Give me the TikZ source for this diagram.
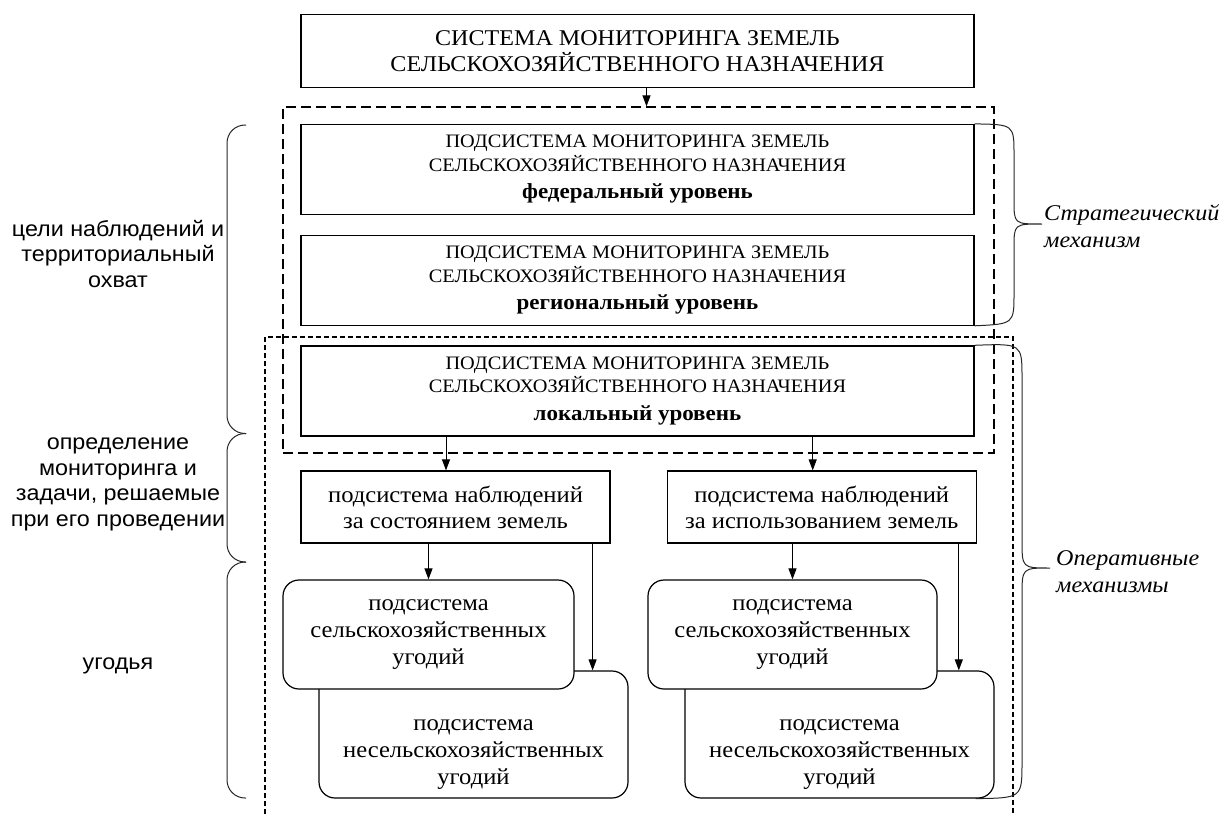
\documentclass[tikz,border=0pt]{standalone}
\usepackage{fontspec}
\setmainfont[FakeStretch=1.07]{Liberation Serif}
\setsansfont[FakeStretch=1.07]{Liberation Sans}
\usetikzlibrary{positioning,arrows.meta}

\newcommand{\podsys}{ПОДСИСТЕМА МОНИТОРИНГА ЗЕМЕЛЬ\\СЕЛЬСКОХОЗЯЙСТВЕННОГО НАЗНАЧЕНИЯ\\[4pt]}
\newcommand{\lvltext}[1]{{\fontsize{21.5}{26}\selectfont\bfseries #1}}

\begin{document}
\begin{tikzpicture}
[x=1pt, y=-1pt, >={Triangle[length=11pt,width=8pt]},
    box/.style={draw, line width=1.2pt, inner sep=0pt, align=center, fill=white},
    lvlbox/.style={box, minimum width=673pt, minimum height=90pt,
        font=\fontsize{19}{23.5}\selectfont},
    obs/.style={box, minimum width=309pt, minimum height=72pt,
        font=\fontsize{23}{26}\selectfont},
    land/.style={box, rounded corners=16pt, font=\fontsize{23}{27}\selectfont},
    stratframe/.style={draw, line width=1.2pt, dash pattern=on 10pt off 5pt,
        inner sep=0pt, minimum width=711pt, minimum height=346pt},
    opframe/.style={line width=1.1pt, dash pattern=on 5pt off 3pt},
    side/.style={font=\sffamily\fontsize{21.8}{25.5}\selectfont, align=center},
    mech/.style={font=\itshape\fontsize{22.5}{27}\selectfont, align=left,
        anchor=west, inner sep=0pt},
    curly/.style={line width=1pt, black!85},
    arr/.style={->, line width=1pt},
    ]
    \useasboundingbox (0,0) rectangle (1227,816);

    % frames
    \node[stratframe] (strat) at (638.5,280) {};
    \draw[opframe] (265,830) |- (1013,337) -- (1013,830);

    \node[box, minimum width=673pt, minimum height=73pt,
        font=\fontsize{22.5}{26}\selectfont] (sys) at (637.5,51)
        {СИСТЕМА МОНИТОРИНГА ЗЕМЕЛЬ\\СЕЛЬСКОХОЗЯЙСТВЕННОГО НАЗНАЧЕНИЯ};
    \node[lvlbox] (fed) at (637.5,169.5) {\podsys\lvltext{федеральный уровень}};
    \node[lvlbox] (reg) [below=19.5pt of fed] {\podsys\lvltext{региональный уровень}};
    \node[lvlbox] (loc) [below=19.5pt of reg] {\podsys\lvltext{локальный уровень}};

    \node[obs] (obsL) at (455.5,507) {подсистема наблюдений\\за состоянием земель};
    \node[obs] (obsR) [right=56pt of obsL] {подсистема наблюдений\\за использованием земель};

    \node[land, minimum width=309pt, minimum height=127pt] (land2L) at (473.5,734.5)
        {\mbox{}\\[24pt]подсистема\\несельскохозяйственных\\угодий};
    \node[land, minimum width=309pt, minimum height=127pt] (land2R) at (839.5,734.5)
        {\mbox{}\\[24pt]подсистема\\несельскохозяйственных\\угодий};
    \node[land, minimum width=291pt, minimum height=109pt] (land1L) at (428.5,634.5)
        {подсистема\\сельскохозяйственных\\угодий};
    \node[land, minimum width=289pt, minimum height=109pt] (land1R) at (792.5,634.5)
        {подсистема\\сельскохозяйственных\\угодий};

    \draw[arr] ([xshift=9pt]sys.south) -- ([xshift=9pt]sys.south |- strat.north);
    \draw[arr] ([xshift=-9.5pt]obsL.north |- loc.south) -- ([xshift=-9.5pt]obsL.north);
    \draw[arr] ([xshift=-9pt]obsR.north |- loc.south) -- ([xshift=-9pt]obsR.north);
    \draw[arr] (land1L.north |- obsL.south) -- (land1L.north);
    \draw[arr] (land1R.north |- obsR.south) -- (land1R.north);
    \draw[arr] ([xshift=-18pt]obsL.south east) -- ([xshift=-18pt]obsL.south east |- land2L.north);
    \draw[arr] ([xshift=-18pt]obsR.south east) -- ([xshift=-18pt]obsR.south east |- land2R.north);

    % left brackets
    \draw[curly, rounded corners=18pt] (246,125) -| (227,433.5) -- (246,433.5);
    \draw[curly, rounded corners=18pt] (246,433.5) -| (227,562) -- (246,562);
    \draw[curly, rounded corners=18pt] (246,562) -| (227,798) -- (246,798);

    \node[side] (goal) at (118,254) {цели наблюдений и\\территориальный\\охват};
    \node[side] (task) at (118,484.5) {определение\\мониторинга и\\задачи, решаемые\\при его проведении};
    \node[side] (lands) at (118,666) {угодья};

    % right braces
    \draw[curly] (fed.north east) .. controls (1014,124.5) .. (1014,155) -- (1014,200)
        .. controls (1014,224) .. (1042,224) .. controls (1014,224) .. (1014,248)
        -- (1014,293) .. controls (1014,324) .. (reg.south east);
    \draw[curly] (loc.north east) .. controls (1022,343.5) .. (1022,378) -- (1022,540)
        .. controls (1022,568) .. (1050,568) .. controls (1022,568) .. (1022,596)
        -- (1022,762) .. controls (1022,798) .. ([xshift=-19pt]land2R.south east);

    \node[mech] (strmech) at (1044,226) {Стратегический\\механизм};
    \node[mech] (opmech) at (1056,572) {Оперативные\\механизмы};
\end{tikzpicture}
\end{document}
